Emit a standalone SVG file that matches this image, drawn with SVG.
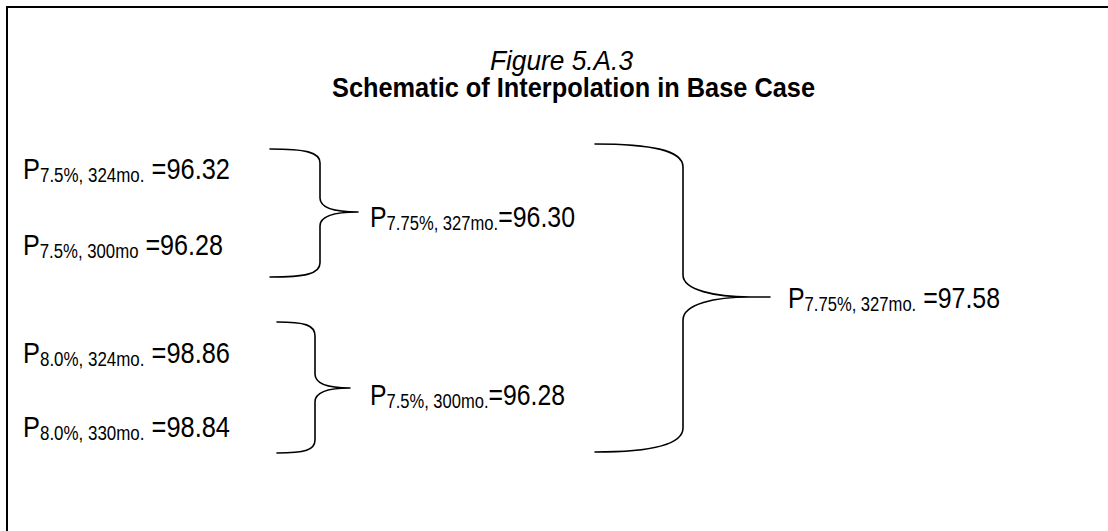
<svg xmlns="http://www.w3.org/2000/svg" width="1108" height="531" viewBox="0 0 1108 531">
<style>
.t{font-family:"Liberation Sans",Arial,sans-serif;fill:#000}
.m{font-size:30px}
.s{font-size:20px}
.b{fill:none;stroke:#000;stroke-width:1.6;stroke-linecap:round}
</style>
<rect width="1108" height="531" fill="#fff"/>
<path d="M7,531 V7 H1108" fill="none" stroke="#000" stroke-width="2"/>
<g id="title">
<text class="t" x="490" y="70" font-size="27" font-style="italic" textLength="143" lengthAdjust="spacingAndGlyphs">Figure 5.A.3</text>
<text class="t" x="332" y="97" font-size="27" font-weight="bold" textLength="483" lengthAdjust="spacingAndGlyphs">Schematic of Interpolation in Base Case</text>
</g>
<g id="n1"><text class="t m" x="23" y="179" textLength="207" lengthAdjust="spacingAndGlyphs">P<tspan class="s" dy="3">7.5%, 324mo.</tspan><tspan dy="-3"> =96.32</tspan></text></g>
<g id="n2"><text class="t m" x="23" y="255" textLength="200" lengthAdjust="spacingAndGlyphs">P<tspan class="s" dy="3">7.5%, 300mo</tspan><tspan dy="-3"> =96.28</tspan></text></g>
<g id="n3"><text class="t m" x="23" y="363" textLength="207" lengthAdjust="spacingAndGlyphs">P<tspan class="s" dy="3">8.0%, 324mo.</tspan><tspan dy="-3"> =98.86</tspan></text></g>
<g id="n4"><text class="t m" x="23" y="437" textLength="207" lengthAdjust="spacingAndGlyphs">P<tspan class="s" dy="3">8.0%, 330mo.</tspan><tspan dy="-3"> =98.84</tspan></text></g>
<g id="n5"><text class="t m" x="370" y="227" textLength="205" lengthAdjust="spacingAndGlyphs">P<tspan class="s" dy="3">7.75%, 327mo.</tspan><tspan dy="-3">=96.30</tspan></text></g>
<g id="n6"><text class="t m" x="370" y="405" textLength="195" lengthAdjust="spacingAndGlyphs">P<tspan class="s" dy="3">7.5%, 300mo.</tspan><tspan dy="-3">=96.28</tspan></text></g>
<g id="n7"><text class="t m" x="788" y="308" textLength="212" lengthAdjust="spacingAndGlyphs">P<tspan class="s" dy="3">7.75%, 327mo.</tspan><tspan dy="-3"> =97.58</tspan></text></g>
<g id="connectors">
<path class="b" d="M270,149 C305,149 320,152 320,163 L320,198 C320,207 333,212 358,212 M358,212 C333,212 320,217 320,226 L320,263 C320,274 305,277 270,277"/>
<path class="b" d="M277,322 C305,322 315,325 315,336 L315,374 C315,383 327,388 350,388 M350,388 C327,388 315,393 315,402 L315,440 C315,450 305,453 277,453"/>
<path class="b" d="M595,144 C650,144 683,150 683,167 L683,275 C683,290 715,297 750,297 L770,297 M750,297 C715,297 683,304 683,320 L683,428 C683,445 650,452 595,452"/>
</g>
</svg>
